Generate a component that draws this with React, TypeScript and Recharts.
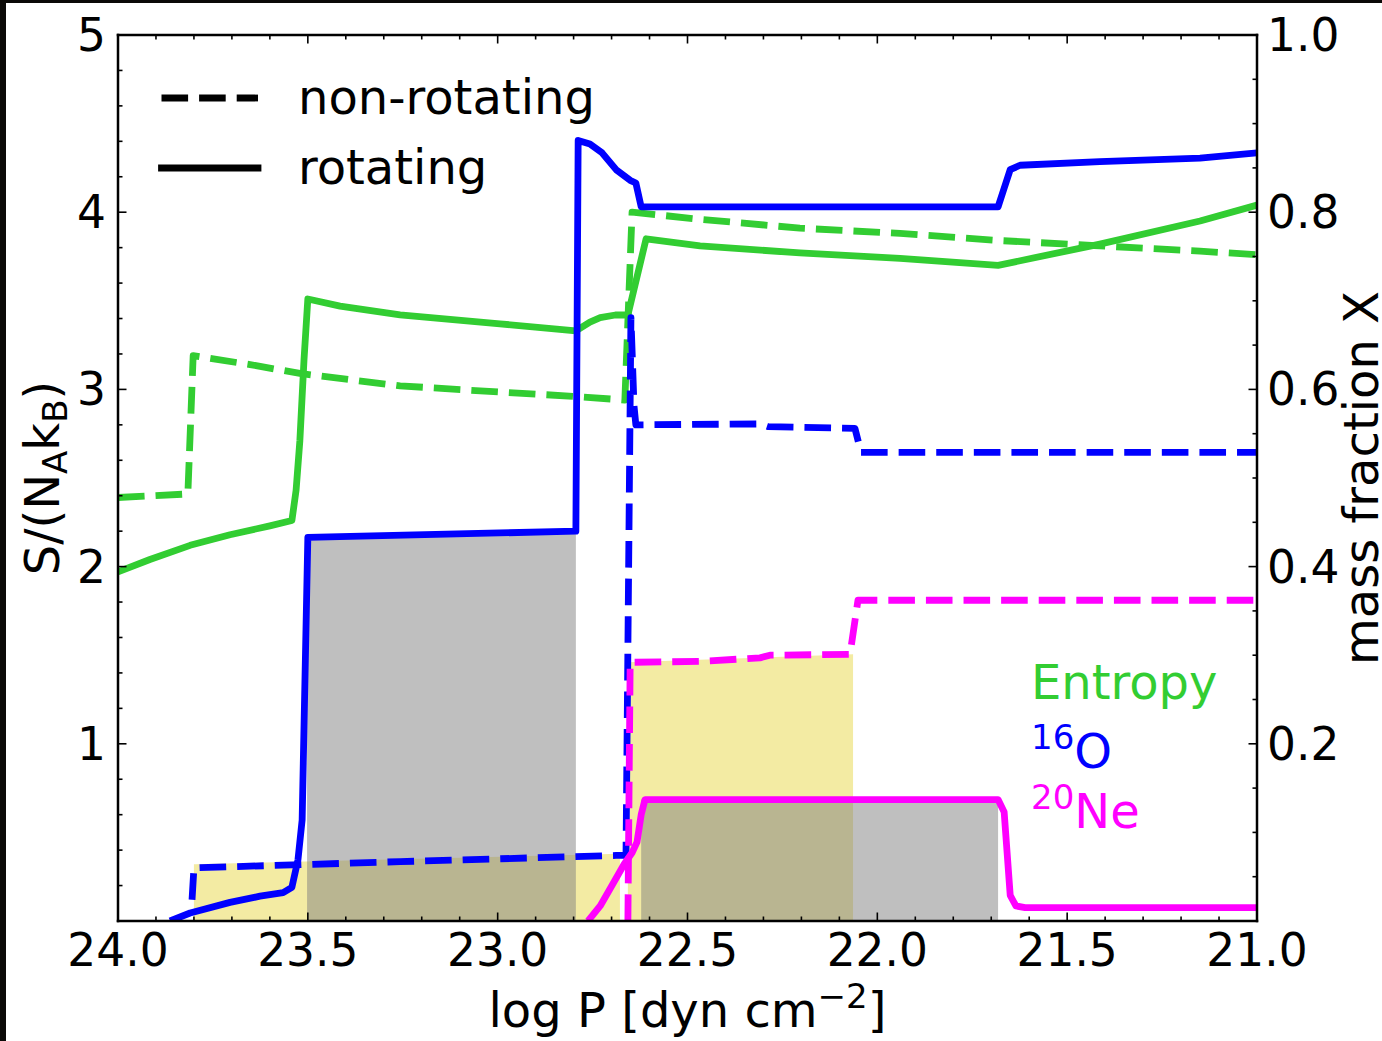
import React from 'react'
import { ComposedChart, Line, Area, XAxis, YAxis, Legend, Customized } from 'recharts'

const FONT = 'DejaVu Sans'
const GREEN = '#32cd32'
const BLUE = '#0000ff'
const MAGENTA = '#ff00ff'

// p = log P [dyn cm^-2], v = entropy S/(N_A k_B)
const entropyRotating = [
  { p: 24.0, v: 1.97 }, { p: 23.916, v: 2.04 }, { p: 23.81, v: 2.12 }, { p: 23.705, v: 2.18 },
  { p: 23.6, v: 2.23 }, { p: 23.542, v: 2.26 }, { p: 23.531, v: 2.43 }, { p: 23.521, v: 2.71 },
  { p: 23.51, v: 3.17 }, { p: 23.5, v: 3.51 }, { p: 23.415, v: 3.47 }, { p: 23.257, v: 3.42 },
  { p: 22.994, v: 3.37 }, { p: 22.794, v: 3.33 }, { p: 22.757, v: 3.38 }, { p: 22.73, v: 3.405 },
  { p: 22.69, v: 3.42 }, { p: 22.657, v: 3.42 }, { p: 22.609, v: 3.85 }, { p: 22.467, v: 3.81 },
  { p: 22.204, v: 3.77 }, { p: 21.94, v: 3.74 }, { p: 21.682, v: 3.70 }, { p: 21.414, v: 3.82 },
  { p: 21.15, v: 3.95 }, { p: 21.0, v: 4.04 },
]

const entropyNonRotating = [
  { p: 24.0, v: 2.39 }, { p: 23.816, v: 2.41 }, { p: 23.802, v: 3.19 }, { p: 23.652, v: 3.14 },
  { p: 23.521, v: 3.09 }, { p: 23.257, v: 3.02 }, { p: 22.994, v: 2.985 }, { p: 22.794, v: 2.96 },
  { p: 22.665, v: 2.94 }, { p: 22.646, v: 4.0 }, { p: 22.467, v: 3.96 }, { p: 22.204, v: 3.91 },
  { p: 21.94, v: 3.88 }, { p: 21.677, v: 3.84 }, { p: 21.414, v: 3.81 }, { p: 21.15, v: 3.78 },
  { p: 21.0, v: 3.76 },
]

// v = mass fraction X
const o16Rotating = [
  { p: 23.863, v: 0.0 }, { p: 23.81, v: 0.009 }, { p: 23.705, v: 0.021 }, { p: 23.626, v: 0.028 },
  { p: 23.565, v: 0.032 }, { p: 23.542, v: 0.038 }, { p: 23.526, v: 0.069 }, { p: 23.515, v: 0.114 },
  { p: 23.5, v: 0.433 }, { p: 22.794, v: 0.44 }, { p: 22.788, v: 0.881 }, { p: 22.757, v: 0.877 },
  { p: 22.725, v: 0.867 }, { p: 22.688, v: 0.848 }, { p: 22.651, v: 0.836 }, { p: 22.636, v: 0.833 },
  { p: 22.622, v: 0.806 }, { p: 21.682, v: 0.806 }, { p: 21.666, v: 0.827 }, { p: 21.65, v: 0.848 },
  { p: 21.624, v: 0.853 }, { p: 21.414, v: 0.857 }, { p: 21.15, v: 0.861 }, { p: 21.0, v: 0.867 },
]

const o16NonRotating = [
  { p: 23.805, v: 0.024 }, { p: 23.8, v: 0.06 }, { p: 23.257, v: 0.067 }, { p: 22.688, v: 0.074 },
  { p: 22.662, v: 0.074 }, { p: 22.649, v: 0.681 }, { p: 22.641, v: 0.582 }, { p: 22.636, v: 0.56 },
  { p: 22.309, v: 0.561 }, { p: 22.288, v: 0.558 }, { p: 22.059, v: 0.556 }, { p: 22.043, v: 0.529 },
  { p: 21.0, v: 0.529 },
]

const ne20Rotating = [
  { p: 22.762, v: 0.0 }, { p: 22.73, v: 0.017 }, { p: 22.699, v: 0.04 }, { p: 22.667, v: 0.064 },
  { p: 22.646, v: 0.077 }, { p: 22.633, v: 0.089 }, { p: 22.622, v: 0.12 }, { p: 22.612, v: 0.137 },
  { p: 21.682, v: 0.137 }, { p: 21.666, v: 0.123 }, { p: 21.65, v: 0.029 }, { p: 21.635, v: 0.017 },
  { p: 21.611, v: 0.015 }, { p: 21.0, v: 0.015 },
]

const ne20NonRotating = [
  { p: 22.657, v: 0.0 }, { p: 22.651, v: 0.292 }, { p: 22.467, v: 0.293 }, { p: 22.309, v: 0.297 },
  { p: 22.283, v: 0.3 }, { p: 22.072, v: 0.301 }, { p: 22.051, v: 0.362 }, { p: 21.0, v: 0.362 },
]

// shaded convective zones (mass fraction scale)
const convNonRotatingA = [{ p: 23.8, v: 0.064 }, { p: 22.678, v: 0.076 }]
const convNonRotatingB = [{ p: 22.657, v: 0.292 }, { p: 22.064, v: 0.301 }]
const convRotatingA = [{ p: 23.502, v: 0.433 }, { p: 22.794, v: 0.44 }]
const convRotatingB = [{ p: 22.622, v: 0.137 }, { p: 21.682, v: 0.137 }]

const pTicks = [
  21.0, 21.1, 21.2, 21.3, 21.4, 21.5, 21.6, 21.7, 21.8, 21.9, 22.0, 22.1, 22.2, 22.3, 22.4, 22.5,
  22.6, 22.7, 22.8, 22.9, 23.0, 23.1, 23.2, 23.3, 23.4, 23.5, 23.6, 23.7, 23.8, 23.9, 24.0,
]
const pMajor = [21.0, 21.5, 22.0, 22.5, 23.0, 23.5, 24.0]
const sTicks = [
  0, 0.2, 0.4, 0.6, 0.8, 1, 1.2, 1.4, 1.6, 1.8, 2, 2.2, 2.4, 2.6, 2.8, 3, 3.2, 3.4, 3.6, 3.8, 4,
  4.2, 4.4, 4.6, 4.8, 5,
]
const sMajor = [1, 2, 3, 4, 5]
const xTicks = [
  0, 0.05, 0.1, 0.15, 0.2, 0.25, 0.3, 0.35, 0.4, 0.45, 0.5, 0.55, 0.6, 0.65, 0.7, 0.75, 0.8, 0.85,
  0.9, 0.95, 1.0,
]
const xMajor = [0.2, 0.4, 0.6, 0.8, 1.0]

const MAJOR_LEN = 8.5
const MINOR_LEN = 4.5
const TICK_FONT = 45.5
const TEXT_FONT = 48

const near = (list: number[], v: number) => list.some(m => Math.abs(m - v) < 1e-6)

function BottomTick({ x = 0, y = 0, payload }: any) {
  const v = payload?.value ?? 0
  const major = near(pMajor, v)
  return (
    <g>
      <line x1={x} x2={x} y1={y} y2={y - (major ? MAJOR_LEN : MINOR_LEN)} stroke="#000" strokeWidth={1.6} />
      {major && (
        <text x={x} y={y + 45} textAnchor="middle" fontSize={TICK_FONT} fontFamily={FONT} fill="#000">
          {v.toFixed(1)}
        </text>
      )}
    </g>
  )
}

function TopTick({ x = 0, y = 0, payload }: any) {
  const major = near(pMajor, payload?.value ?? 0)
  return <line x1={x} x2={x} y1={y} y2={y + (major ? MAJOR_LEN : MINOR_LEN)} stroke="#000" strokeWidth={1.6} />
}

function LeftTick({ x = 0, y = 0, payload }: any) {
  const v = payload?.value ?? 0
  const major = near(sMajor, v)
  return (
    <g>
      <line x1={x} x2={x + (major ? MAJOR_LEN : MINOR_LEN)} y1={y} y2={y} stroke="#000" strokeWidth={1.6} />
      {major && (
        <text x={x - 12} y={y + 16} textAnchor="end" fontSize={TICK_FONT} fontFamily={FONT} fill="#000">
          {String(v)}
        </text>
      )}
    </g>
  )
}

function RightTick({ x = 0, y = 0, payload }: any) {
  const v = payload?.value ?? 0
  const major = near(xMajor, v)
  return (
    <g>
      <line x1={x} x2={x - (major ? MAJOR_LEN : MINOR_LEN)} y1={y} y2={y} stroke="#000" strokeWidth={1.6} />
      {major && (
        <text x={x + 10} y={y + 16} textAnchor="start" fontSize={TICK_FONT} fontFamily={FONT} fill="#000">
          {v.toFixed(1)}
        </text>
      )}
    </g>
  )
}

function PressureTitle({ viewBox }: any) {
  const { x = 118, y = 921, width = 1139 } = viewBox || {}
  return (
    <text x={x + width / 2} y={y + 106} textAnchor="middle" fontSize={TEXT_FONT} fontFamily={FONT} fill="#000">
      log P [dyn cm
      <tspan fontSize={34} dy={-19}>−2</tspan>
      <tspan dy={19}>]</tspan>
    </text>
  )
}

function EntropyTitle({ viewBox }: any) {
  const { y = 35, height = 886 } = viewBox || {}
  const cy = y + height / 2
  return (
    <text x={59} y={cy} transform={`rotate(-90 59 ${cy})`} textAnchor="middle" fontSize={TEXT_FONT} fontFamily={FONT} fill="#000">
      S/(N
      <tspan fontSize={34} dy={8}>A</tspan>
      <tspan dy={-8}>k</tspan>
      <tspan fontSize={34} dy={8}>B</tspan>
      <tspan dy={-8}>)</tspan>
    </text>
  )
}

function FractionTitle({ viewBox }: any) {
  const { y = 35, height = 886 } = viewBox || {}
  const cy = y + height / 2
  return (
    <text x={1378} y={cy} transform={`rotate(-90 1378 ${cy})`} textAnchor="middle" fontSize={TEXT_FONT} fontFamily={FONT} fill="#000">
      mass fraction X
    </text>
  )
}

const legendRows = [
  { label: 'non-rotating', dash: '26.6 11' },
  { label: 'rotating', dash: undefined },
]

function LegendBox() {
  return (
    <svg width={470} height={160} style={{ display: 'block' }}>
      {legendRows.map((row, i) => {
        const cy = 48 + i * 70
        return (
          <g key={row.label}>
            <line
              x1={11.5}
              x2={108}
              y1={cy}
              y2={cy}
              stroke="#000"
              strokeWidth={6.8}
              strokeDasharray={row.dash}
              strokeLinecap={row.dash ? 'butt' : 'square'}
            />
            <text x={148} y={cy + 16} fontSize={TEXT_FONT} fontFamily={FONT} fill="#000">
              {row.label}
            </text>
          </g>
        )
      })}
    </svg>
  )
}

function SpeciesLabels() {
  return (
    <g fontFamily={FONT} fontSize={TEXT_FONT}>
      <text x={1031} y={699} fill={GREEN}>Entropy</text>
      <text x={1031} y={768} fill={BLUE}>
        <tspan fontSize={34} dy={-19}>16</tspan>
        <tspan dy={19}>O</tspan>
      </text>
      <text x={1031} y={828} fill={MAGENTA}>
        <tspan fontSize={34} dy={-19}>20</tspan>
        <tspan dy={19}>Ne</tspan>
      </text>
    </g>
  )
}

const spine = { stroke: '#000', strokeWidth: 2.5, strokeLinecap: 'square' as const }
const LW = 6.8
const DASH = '26.6 11'

export default function App() {
  return (
    <div style={{ position: 'absolute', left: 0, top: 0, width: 1382, height: 1041, background: '#0b0907' }}>
      <div style={{ position: 'absolute', left: 6, top: 3, width: 1376, height: 1038, background: '#fff' }} />
      <div style={{ position: 'absolute', left: 0, top: 0 }}>
        <ComposedChart width={1382} height={1041} margin={{ top: 0, right: 0, bottom: 0, left: 0 }}>
          <XAxis
            dataKey="p"
            type="number"
            domain={[21, 24]}
            reversed
            allowDataOverflow
            ticks={pTicks}
            interval={0}
            tickSize={0}
            tickMargin={0}
            tick={<BottomTick />}
            axisLine={spine}
            height={120}
            label={<PressureTitle />}
          />
          <XAxis
            xAxisId="top"
            orientation="top"
            dataKey="p"
            type="number"
            domain={[21, 24]}
            reversed
            allowDataOverflow
            ticks={pTicks}
            interval={0}
            tickSize={0}
            tickMargin={0}
            tick={<TopTick />}
            axisLine={spine}
            height={35}
          />
          <YAxis
            yAxisId="left"
            type="number"
            domain={[0, 5]}
            allowDataOverflow
            ticks={sTicks}
            interval={0}
            tickSize={0}
            tickMargin={0}
            tick={<LeftTick />}
            axisLine={spine}
            width={118}
            label={<EntropyTitle />}
          />
          <YAxis
            yAxisId="right"
            orientation="right"
            type="number"
            domain={[0, 1]}
            allowDataOverflow
            ticks={xTicks}
            interval={0}
            tickSize={0}
            tickMargin={0}
            tick={<RightTick />}
            axisLine={spine}
            width={125}
            label={<FractionTitle />}
          />

          <Area yAxisId="right" data={convNonRotatingA} dataKey="v" type="linear" stroke="none" fill="#f0e68c" fillOpacity={0.8} isAnimationActive={false} />
          <Area yAxisId="right" data={convNonRotatingB} dataKey="v" type="linear" stroke="none" fill="#f0e68c" fillOpacity={0.8} isAnimationActive={false} />
          <Area yAxisId="right" data={convRotatingA} dataKey="v" type="linear" stroke="none" fill="#808080" fillOpacity={0.5} isAnimationActive={false} />
          <Area yAxisId="right" data={convRotatingB} dataKey="v" type="linear" stroke="none" fill="#808080" fillOpacity={0.5} isAnimationActive={false} />

          <Line yAxisId="left" data={entropyNonRotating} dataKey="v" type="linear" stroke={GREEN} strokeWidth={LW} strokeDasharray={DASH} strokeLinejoin="round" dot={false} activeDot={false} isAnimationActive={false} />
          <Line yAxisId="left" data={entropyRotating} dataKey="v" type="linear" stroke={GREEN} strokeWidth={LW} strokeLinejoin="round" dot={false} activeDot={false} isAnimationActive={false} />
          <Line yAxisId="right" data={o16NonRotating} dataKey="v" type="linear" stroke={BLUE} strokeWidth={LW} strokeDasharray={DASH} strokeLinejoin="round" dot={false} activeDot={false} isAnimationActive={false} />
          <Line yAxisId="right" data={o16Rotating} dataKey="v" type="linear" stroke={BLUE} strokeWidth={LW} strokeLinejoin="round" dot={false} activeDot={false} isAnimationActive={false} />
          <Line yAxisId="right" data={ne20NonRotating} dataKey="v" type="linear" stroke={MAGENTA} strokeWidth={LW} strokeDasharray={DASH} strokeLinejoin="round" dot={false} activeDot={false} isAnimationActive={false} />
          <Line yAxisId="right" data={ne20Rotating} dataKey="v" type="linear" stroke={MAGENTA} strokeWidth={LW} strokeLinejoin="round" dot={false} activeDot={false} isAnimationActive={false} />

          <Customized component={<SpeciesLabels />} />
          <Legend
            layout="horizontal"
            verticalAlign="middle"
            align="center"
            content={<LegendBox />}
            wrapperStyle={{ left: 150, top: 50, width: 470, height: 160 }}
          />
        </ComposedChart>
      </div>
    </div>
  )
}
